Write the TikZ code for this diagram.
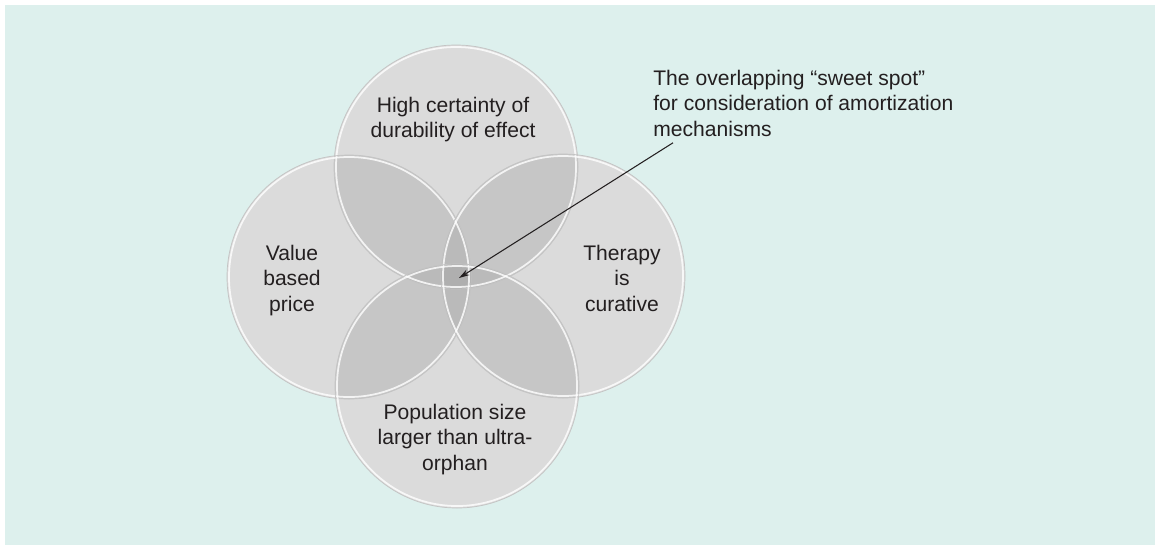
\documentclass[tikz,border=0pt]{standalone}
\usepackage{fontspec}
\setmainfont{Liberation Sans}
\usetikzlibrary{arrows.meta}

\definecolor{panel}{RGB}{221,240,237}
\definecolor{ink}{RGB}{35,31,32}
\definecolor{discone}{RGB}{219,219,219}
\definecolor{disctwo}{RGB}{198,198,198}
\definecolor{discthree}{RGB}{186,186,186}
\definecolor{discfour}{RGB}{175,175,175}
\definecolor{discedge}{RGB}{196,196,196}

\begin{document}
\begin{tikzpicture}[x=0.02cm,y=-0.02cm,
    lbl/.style={align=center, inner sep=0pt, anchor=north, text=ink,
                font=\fontsize{12}{14.4}\selectfont}]
            \useasboundingbox (0,0) rectangle (1155,545);
            \fill[panel] (5,5) rectangle (1155,545);
            \def\rad{122}
            % centres of the four discs
            \coordinate (T) at (456,167);
            \coordinate (L) at (349,277);
            \coordinate (R) at (563,276);
            \coordinate (B) at (457,386);
            \foreach \c in {T,L,R,B}
                \fill[discone] (\c) circle (\rad);
            % overlaps get darker the more discs share them
            \foreach \a/\b in {T/L,T/R,B/L,B/R,T/B,L/R} {
                \begin{scope}
                    \clip (\a) circle (\rad);
                    \fill[disctwo] (\b) circle (\rad);
                \end{scope}
            }
            \foreach \a/\b/\c in {T/L/R,T/L/B,T/R/B,L/R/B} {
                \begin{scope}
                    \clip (\a) circle (\rad);
                    \clip (\b) circle (\rad);
                    \fill[discthree] (\c) circle (\rad);
                \end{scope}
            }
            \begin{scope}
                \clip (T) circle (\rad);
                \clip (L) circle (\rad);
                \clip (R) circle (\rad);
                \fill[discfour] (B) circle (\rad);
            \end{scope}
            % light rims
            \foreach \c in {T,L,R,B} {
                \draw[discedge, line width=0.4pt] (\c) circle (\rad);
                \draw[white, line width=1pt, opacity=0.8] (\c) circle ({\rad-2});
            }
            \node[lbl] (durab) at (453,97) {High certainty of\\durability of effect};
            \node[lbl] (value) at (292,245) {Value\\based\\price};
            \node[lbl] (cure) at (622,245) {Therapy\\is\\curative};
            \node[lbl] (popul) at (455,404) {Population size\\larger than ultra-\\orphan};
            \node[lbl, align=left, anchor=north west] (note) at (653,70)
                {The overlapping “sweet spot”\\for consideration of amortization\\mechanisms};
            \coordinate (spot) at (459,278);
            \draw[-{Stealth[length=6pt,width=3.5pt]}, line width=0.6pt, ink]
                ([xshift=0.4cm,yshift=-0.12cm]note.south west) -- (spot);
\end{tikzpicture}
\end{document}
